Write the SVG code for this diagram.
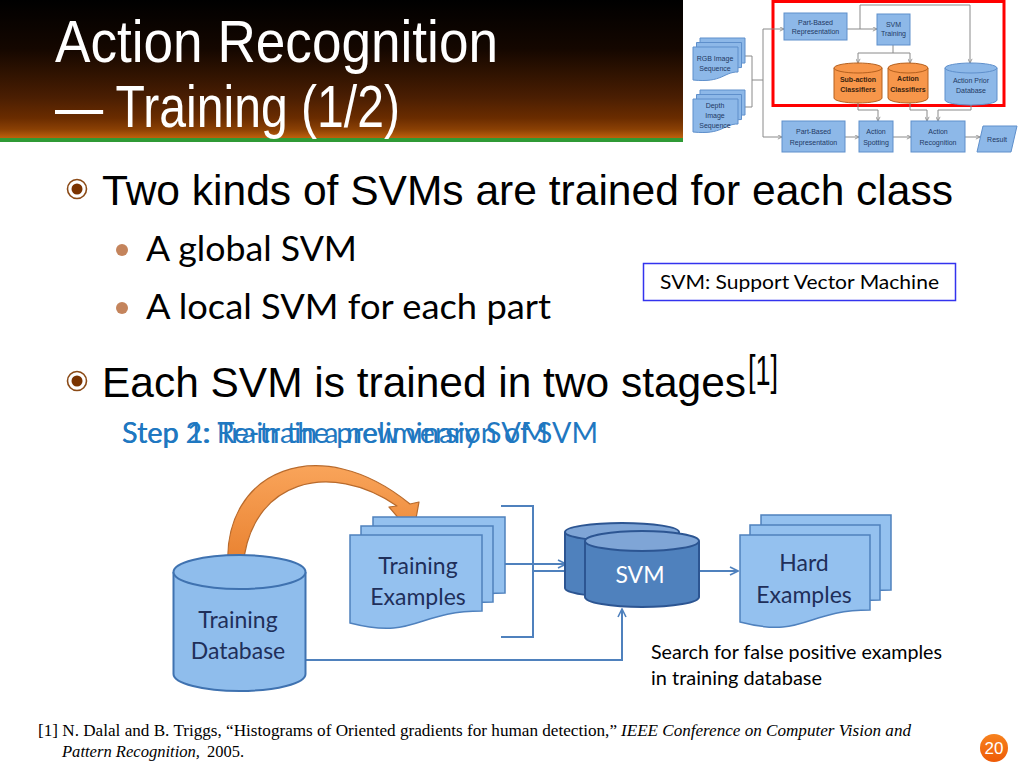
<svg xmlns="http://www.w3.org/2000/svg" width="1024" height="768" viewBox="0 0 1024 768">
<defs>
<linearGradient id="band" x1="0" y1="0" x2="0" y2="1">
<stop offset="0" stop-color="#000000"/>
<stop offset="0.35" stop-color="#140700"/>
<stop offset="0.7" stop-color="#4A1E02"/>
<stop offset="0.85" stop-color="#6A2C00"/>
<stop offset="0.93" stop-color="#8A4004"/>
<stop offset="1" stop-color="#C4650E"/>
</linearGradient>
<linearGradient id="orangeArc" x1="0" y1="0" x2="0" y2="1">
<stop offset="0" stop-color="#F9A45A"/>
<stop offset="1" stop-color="#E8802E"/>
</linearGradient>
<linearGradient id="pgnum" x1="0" y1="0" x2="0" y2="1">
<stop offset="0" stop-color="#F7821E"/>
<stop offset="1" stop-color="#EE5A06"/>
</linearGradient>
<marker id="arr" viewBox="0 0 10 10" refX="9" refY="5" markerWidth="10" markerHeight="10" markerUnits="userSpaceOnUse" orient="auto">
<path d="M1,1 L9,5 L1,9" fill="none" stroke="#4F81BD" stroke-width="1.6"/>
</marker>
<marker id="marr" viewBox="0 0 6 6" refX="5.5" refY="3" markerWidth="5" markerHeight="5" markerUnits="userSpaceOnUse" orient="auto">
<path d="M0.5,0.5 L5.5,3 L0.5,5.5" fill="none" stroke="#8A8A8A" stroke-width="1"/>
</marker>
<style>
.title{font-family:"Liberation Sans Narrow","Liberation Sans",Arial,sans-serif;fill:#FFFFFF;font-size:60px}
.l1{font-family:"Liberation Sans",Arial,sans-serif;font-size:42.5px;fill:#000000}
.l2{font-family:Lato,"Open Sans",sans-serif;font-size:35.5px;fill:#000000}
.step{font-family:Lato,"Open Sans",sans-serif;font-size:28px;fill:#1F78C1}
.lbl{font-family:Lato,"Open Sans",sans-serif;font-size:23px;fill:#1F2F5A;text-anchor:middle}
.svmt{font-family:Lato,"Open Sans",sans-serif;font-size:23px;fill:#FFFFFF;text-anchor:middle}
.note{font-family:Lato,"Open Sans",sans-serif;font-size:19px;fill:#000000}
.ref{font-family:"Liberation Serif","Times New Roman",serif;font-size:16px;fill:#000000}
.doc{fill:#94C1EF;stroke:#4F81BD;stroke-width:1.5}
.cylL{fill:#8FBDEC;stroke:#3F72B0;stroke-width:2}
.cylD{fill:#4F81BD;stroke:#2C5592;stroke-width:2}
.cylDtop{fill:#7FA5D6;stroke:#2C5592;stroke-width:2}
.conn{fill:none;stroke:#4F81BD;stroke-width:2}
.mbox{fill:#8DB8E8;stroke:#5E8FCB;stroke-width:1}
.mcylO{fill:#F7964A;stroke:#B5601E;stroke-width:1}
.mcylB{fill:#8DB8E8;stroke:#5E8FCB;stroke-width:1}
.mt{font-family:"Liberation Sans",Arial,sans-serif;font-size:7px;fill:#1F3864;text-anchor:middle}
.mtb{font-family:"Liberation Sans",Arial,sans-serif;font-size:7px;font-weight:bold;fill:#3A2410;text-anchor:middle}
.mconn{fill:none;stroke:#8A8A8A;stroke-width:1}
.bring{fill:#FFFFFF;stroke:#8B4A16;stroke-width:1.6}
.bdot{fill:#7A3300}
.sdot{fill:#C4845C}
</style>
</defs>

<rect x="0" y="0" width="1024" height="768" fill="#FFFFFF"/>

<g id="title-band">
<rect x="0" y="0" width="683" height="139" fill="url(#band)"/>
<rect x="0" y="138" width="683" height="4" fill="#2F9A35"/>
<text class="title" x="55" y="62" textLength="443" lengthAdjust="spacingAndGlyphs">Action Recognition</text>
<text class="title" x="55" y="127" textLength="345" lengthAdjust="spacingAndGlyphs">— Training (1/2)</text>
</g>

<g id="mini-diagram">
<rect x="773" y="1.5" width="231" height="104" fill="none" stroke="#FF0000" stroke-width="3"/>
<g id="mini-connectors">
<polyline class="mconn" points="745,56 752,56 752,107 745,107"/>
<line class="mconn" x1="752" y1="80" x2="763" y2="80"/>
<line class="mconn" x1="763" y1="29" x2="763" y2="137"/>
<line class="mconn" x1="763" y1="29" x2="784" y2="29" marker-end="url(#marr)"/>
<line class="mconn" x1="763" y1="137" x2="782" y2="137" marker-end="url(#marr)"/>
<line class="mconn" x1="847" y1="29" x2="877" y2="29" marker-end="url(#marr)"/>
<polyline class="mconn" points="860,29 860,5 970,5 970,63" marker-end="url(#marr)"/>
<line class="mconn" x1="893" y1="45" x2="893" y2="53"/>
<line class="mconn" x1="858" y1="53" x2="910" y2="53"/>
<line class="mconn" x1="858" y1="53" x2="858" y2="63" marker-end="url(#marr)"/>
<line class="mconn" x1="910" y1="53" x2="910" y2="63" marker-end="url(#marr)"/>
<polyline class="mconn" points="858,103 858,110 878,110 878,121" marker-end="url(#marr)"/>
<polyline class="mconn" points="910,103 910,110 927,110 927,121" marker-end="url(#marr)"/>
<polyline class="mconn" points="971,105 971,110 938,110 938,121" marker-end="url(#marr)"/>
<line class="mconn" x1="845" y1="137" x2="859" y2="137" marker-end="url(#marr)"/>
<line class="mconn" x1="893" y1="137" x2="911" y2="137" marker-end="url(#marr)"/>
<line class="mconn" x1="965" y1="137" x2="980" y2="137" marker-end="url(#marr)"/>
</g>
<g id="mini-rgb">
<path class="mbox" d="M700,38 H745 V63 C730,63 730,74 700,71 Z"/>
<path class="mbox" d="M696.5,42.5 H741.5 V67.5 C726.5,67.5 726.5,78.5 696.5,75.5 Z"/>
<path class="mbox" d="M693,47 H738 V72 C723,72 723,83 693,80 Z"/>
<text class="mt" x="715" y="61">RGB Image</text>
<text class="mt" x="715" y="71">Sequence</text>
</g>
<g id="mini-depth">
<path class="mbox" d="M700,90 H745 V115 C730,115 730,126 700,123 Z"/>
<path class="mbox" d="M696.5,94.5 H741.5 V119.5 C726.5,119.5 726.5,130.5 696.5,127.5 Z"/>
<path class="mbox" d="M693,99 H738 V124 C723,124 723,135 693,132 Z"/>
<text class="mt" x="715" y="108">Depth</text>
<text class="mt" x="715" y="118">Image</text>
<text class="mt" x="715" y="128">Sequence</text>
</g>
<g id="mini-pbr-top">
<rect class="mbox" x="784" y="13" width="63" height="27"/>
<text class="mt" x="815.5" y="25">Part-Based</text>
<text class="mt" x="815.5" y="34">Representation</text>
</g>
<g id="mini-svm-training">
<rect class="mbox" x="877" y="14" width="33" height="31"/>
<text class="mt" x="893.5" y="27">SVM</text>
<text class="mt" x="893.5" y="36">Training</text>
</g>
<g id="mini-subaction">
<path class="mcylO" d="M834,68 V98 A24,5 0 0 0 882,98 V68"/>
<ellipse class="mcylO" cx="858" cy="68" rx="24" ry="5"/>
<text class="mtb" x="858" y="82">Sub-action</text>
<text class="mtb" x="858" y="92">Classifiers</text>
</g>
<g id="mini-action-classifiers">
<path class="mcylO" d="M888,68 V98 A20,5 0 0 0 928,98 V68"/>
<ellipse class="mcylO" cx="908" cy="68" rx="20" ry="5"/>
<text class="mtb" x="908" y="81">Action</text>
<text class="mtb" x="908" y="92">Classifiers</text>
</g>
<g id="mini-action-prior">
<path class="mcylB" d="M945,68 V100 A26,5 0 0 0 997,100 V68"/>
<ellipse class="mcylB" cx="971" cy="68" rx="26" ry="5"/>
<text class="mt" x="971" y="83">Action Prior</text>
<text class="mt" x="971" y="93">Database</text>
</g>
<g id="mini-pbr-bottom">
<rect class="mbox" x="782" y="121" width="63" height="31"/>
<text class="mt" x="813.5" y="134">Part-Based</text>
<text class="mt" x="813.5" y="145">Representation</text>
</g>
<g id="mini-spotting">
<rect class="mbox" x="859" y="121" width="34" height="31"/>
<text class="mt" x="876" y="134">Action</text>
<text class="mt" x="876" y="145">Spotting</text>
</g>
<g id="mini-recognition">
<rect class="mbox" x="911" y="121" width="54" height="31"/>
<text class="mt" x="938" y="134">Action</text>
<text class="mt" x="938" y="145">Recognition</text>
</g>
<g id="mini-result">
<polygon class="mbox" points="983,126 1017,126 1011,152 977,152"/>
<text class="mt" x="997" y="142">Result</text>
</g>
</g>

<g id="bullets">
<circle class="bring" cx="77" cy="189" r="9.5"/>
<circle class="bdot" cx="77" cy="189" r="5.5"/>
<text class="l1" x="102" y="205" textLength="851" lengthAdjust="spacingAndGlyphs">Two kinds of SVMs are trained for each class</text>
<circle class="sdot" cx="122" cy="250" r="6"/>
<text class="l2" x="146" y="261" textLength="211" lengthAdjust="spacingAndGlyphs">A global SVM</text>
<circle class="sdot" cx="122" cy="308" r="6"/>
<text class="l2" x="146" y="319" textLength="405" lengthAdjust="spacingAndGlyphs">A local SVM for each part</text>
<circle class="bring" cx="77" cy="381" r="9.5"/>
<circle class="bdot" cx="77" cy="381" r="5.5"/>
<text class="l1" x="102" y="397" textLength="644" lengthAdjust="spacingAndGlyphs">Each SVM is trained in two stages</text>
<text class="l1" x="748" y="385" font-size="24px" textLength="30" lengthAdjust="spacingAndGlyphs">[1]</text>
<text class="step" x="122" y="443" textLength="426" lengthAdjust="spacingAndGlyphs">Step 1: Train the preliminary SVM</text>
<text class="step" x="122" y="443" textLength="476" lengthAdjust="spacingAndGlyphs">Step 2: Re-train a new version of SVM</text>
</g>

<g id="svm-definition">
<rect x="643.5" y="263.5" width="312" height="37" fill="#FFFFFF" stroke="#3333EE" stroke-width="1.5"/>
<text class="note" x="799.5" y="289" text-anchor="middle" font-size="20.5px" textLength="279" lengthAdjust="spacingAndGlyphs">SVM: Support Vector Machine</text>
</g>

<g id="connectors">
<line class="conn" x1="503" y1="564" x2="566" y2="564" marker-end="url(#arr)"/>
<line class="conn" x1="533" y1="571" x2="564" y2="571"/>
<polyline class="conn" points="501,506 533,506 533,637 501,637"/>
<line class="conn" x1="699" y1="571" x2="738" y2="571" marker-end="url(#arr)"/>
<polyline class="conn" points="306,660 622,660 622,609" marker-end="url(#arr)"/>
</g>

<g id="orange-arrow">
<path d="M228,567 C222,470 320,430 410,504 L419,502 L413,535 L389,507 L397,506 C330,460 250,480 243,567 Z" fill="url(#orangeArc)" stroke="#B86A2C" stroke-width="1.2" stroke-linejoin="round"/>
</g>

<g id="training-database">
<path class="cylL" d="M173.5,572 V674 A66,17 0 0 0 305.5,674 V572"/>
<ellipse class="cylL" cx="239.5" cy="572" rx="66" ry="17"/>
<text class="lbl" x="238" y="628">Training</text>
<text class="lbl" x="238" y="659">Database</text>
</g>

<g id="training-examples">
<path class="doc" d="M373,517 H505 V593 C439,593 439,622 373,605 Z"/>
<path class="doc" d="M361,526 H493 V602 C427,602 427,631 361,614 Z"/>
<path class="doc" d="M350,535 H482 V611 C416,611 416,640 350,623 Z"/>
<text class="lbl" x="418" y="574">Training</text>
<text class="lbl" x="418" y="605">Examples</text>
</g>

<g id="svm">
<path class="cylD" d="M565,532 V588 A57,9 0 0 0 679,588 V532"/>
<ellipse class="cylDtop" cx="622" cy="532" rx="57" ry="9"/>
<path class="cylD" d="M585,541 V597 A57,10 0 0 0 699,597 V541"/>
<ellipse class="cylDtop" cx="642" cy="541" rx="57" ry="10"/>
<text class="svmt" x="640" y="583">SVM</text>
</g>

<g id="hard-examples">
<path class="doc" d="M761,515 H891 V590 C826,590 826,619 761,602 Z"/>
<path class="doc" d="M750,525 H880 V600 C815,600 815,629 750,612 Z"/>
<path class="doc" d="M740,535 H870 V610 C805,610 805,639 740,622 Z"/>
<text class="lbl" x="804" y="571">Hard</text>
<text class="lbl" x="804" y="603">Examples</text>
</g>

<g id="search-note">
<text class="note" x="651" y="659" textLength="291" lengthAdjust="spacingAndGlyphs">Search for false positive examples</text>
<text class="note" x="651" y="685" textLength="171" lengthAdjust="spacingAndGlyphs">in training database</text>
</g>

<g id="reference">
<text class="ref" x="38" y="736" textLength="579" lengthAdjust="spacingAndGlyphs">[1] N. Dalal and B. Triggs, “Histograms of Oriented gradients for human detection,”</text>
<text class="ref" x="621" y="736" font-style="italic" textLength="290" lengthAdjust="spacingAndGlyphs">IEEE Conference on Computer Vision and</text>
<text class="ref" x="62" y="757" font-style="italic" textLength="138" lengthAdjust="spacingAndGlyphs">Pattern Recognition,</text>
<text class="ref" x="207" y="757" textLength="37" lengthAdjust="spacingAndGlyphs">2005.</text>
</g>

<g id="page-number">
<circle cx="994" cy="748" r="14" fill="url(#pgnum)"/>
<text x="994" y="754" text-anchor="middle" font-family="'Liberation Sans Narrow','Liberation Sans',sans-serif" font-size="17px" fill="#FFFFFF">20</text>
</g>
</svg>
